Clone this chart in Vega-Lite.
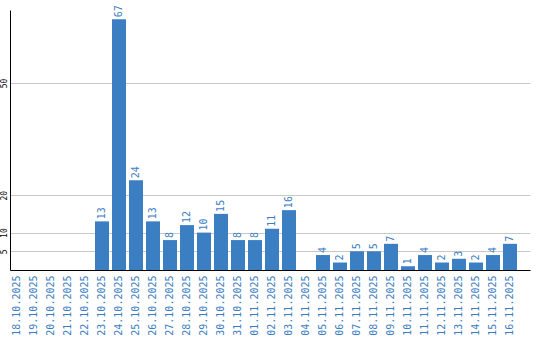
{
  "$schema": "https://vega.github.io/schema/vega-lite/v6.json",
  "width": 520,
  "height": 260,
  "autosize": {"type": "none"},
  "padding": {"left": 10, "top": 10, "right": 10, "bottom": 70},
  "background": "white",
  "config": {"view": {"stroke": null}},
  "data": {"values": [
    {"date": "18.10.2025", "count": 0},
    {"date": "19.10.2025", "count": 0},
    {"date": "20.10.2025", "count": 0},
    {"date": "21.10.2025", "count": 0},
    {"date": "22.10.2025", "count": 0},
    {"date": "23.10.2025", "count": 13},
    {"date": "24.10.2025", "count": 67},
    {"date": "25.10.2025", "count": 24},
    {"date": "26.10.2025", "count": 13},
    {"date": "27.10.2025", "count": 8},
    {"date": "28.10.2025", "count": 12},
    {"date": "29.10.2025", "count": 10},
    {"date": "30.10.2025", "count": 15},
    {"date": "31.10.2025", "count": 8},
    {"date": "01.11.2025", "count": 8},
    {"date": "02.11.2025", "count": 11},
    {"date": "03.11.2025", "count": 16},
    {"date": "04.11.2025", "count": 0},
    {"date": "05.11.2025", "count": 4},
    {"date": "06.11.2025", "count": 2},
    {"date": "07.11.2025", "count": 5},
    {"date": "08.11.2025", "count": 5},
    {"date": "09.11.2025", "count": 7},
    {"date": "10.11.2025", "count": 1},
    {"date": "11.11.2025", "count": 4},
    {"date": "12.11.2025", "count": 2},
    {"date": "13.11.2025", "count": 3},
    {"date": "14.11.2025", "count": 2},
    {"date": "15.11.2025", "count": 4},
    {"date": "16.11.2025", "count": 7}
  ]},
  "encoding": {
    "x": {
      "field": "date", "type": "nominal", "sort": null,
      "scale": {"paddingInner": 0.1765, "paddingOuter": 0.382, "align": 0},
      "axis": {
        "title": null, "labelAngle": -90, "labelAlign": "right", "labelBaseline": "middle",
        "labelColor": "#3b7dc0", "labelFont": "DejaVu Sans Mono", "labelFontSize": 10,
        "ticks": false, "labelPadding": 5, "domainColor": "#000000", "domainWidth": 1,
        "labelOverlap": false
      }
    },
    "y": {
      "field": "count", "type": "quantitative",
      "scale": {"domain": [0, 69.5], "nice": false, "zero": true},
      "axis": {
        "title": null, "values": [5, 10, 20, 50], "labelAngle": -90,
        "labelAlign": "center", "labelBaseline": "bottom",
        "labelColor": "#000000", "labelFont": "DejaVu Sans Mono", "labelFontSize": 8,
        "ticks": false, "labelPadding": 2, "domainColor": "#000000", "domainWidth": 1,
        "gridColor": "#c8c8c8", "gridWidth": 1
      }
    }
  },
  "layer": [
    {"mark": {"type": "bar", "color": "#3b7ec2"}},
    {
      "transform": [{"filter": "datum.count > 0"}],
      "mark": {"type": "text", "angle": -90, "align": "left", "baseline": "middle", "dx": 2,
               "color": "#3b7dc0", "font": "DejaVu Sans Mono", "fontSize": 10},
      "encoding": {"text": {"field": "count", "type": "quantitative"}}
    }
  ]
}
